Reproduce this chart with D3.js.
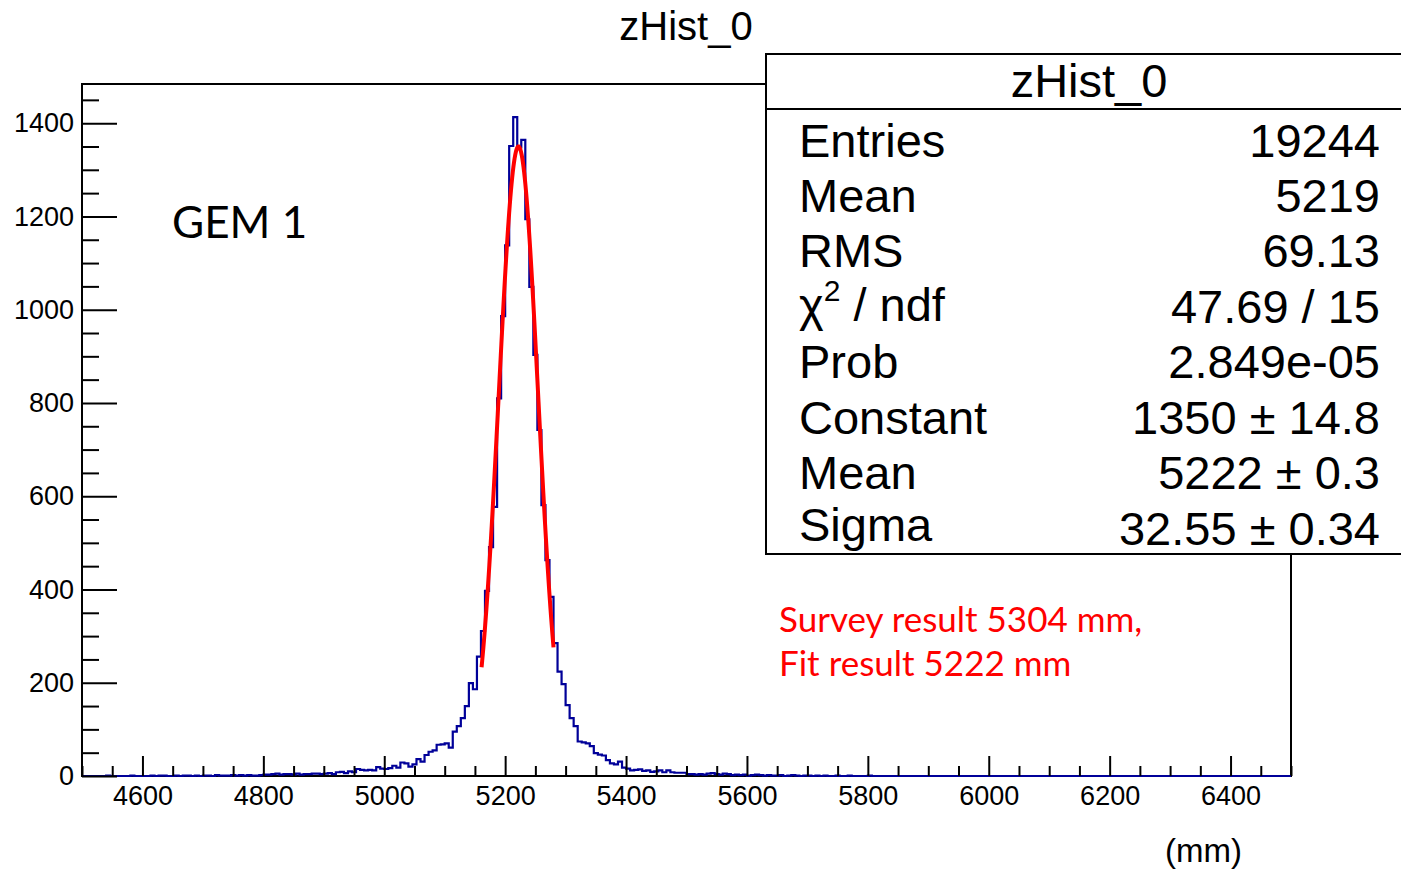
<!DOCTYPE html>
<html>
<head>
<meta charset="utf-8">
<script src="https://cdn.jsdelivr.net/npm/d3@7"></script>
<style>
body { margin: 0; background: #fff; }
</style>
</head>
<body>
<div id="chart"></div>
<script>
// histogram settings: 300 bins from 4500 to 6500 mm
var histMin = 4500, histMax = 6500, nBins = 300;

// bin contents (bins 0-99, 100-199, 200-299)
var countsLow = [
  0,0,0,0,0,0,1,0,0,0, 0,0,1,0,0,0,0,1,0,1,
  1,0,0,1,0,1,1,0,1,0, 1,1,0,2,1,1,1,2,1,2,
  1,2,1,1,2,3,3,4,5,3, 4,4,3,5,3,4,4,5,5,4,
  5,6,4,8,9,6,10,8,15,13, 12,13,12,19,16,15,17,22,18,29,
  27,20,25,36,31,45,52,55,67,68, 70,61,95,107,124,150,199,186,256,311
];
var countsMid = [
  397,491,577,810,986,1138,1351,1413,1348,1364, 1194,1049,903,742,581,463,384,285,224,197,
  152,124,107,74,72,70,64,49,46,44, 34,27,25,31,18,16,12,13,14,11,
  12,9,10,12,8,12,8,7,7,7, 4,4,3,4,3,5,6,4,3,5,
  4,2,3,2,3,1,2,3,2,1, 2,1,1,2,0,1,2,1,0,1,
  1,0,1,0,1,0,0,1,0,0, 1,0,0,0,0,1,0,0,0,0
];
var countsHigh = [
  0,0,0,0,0,0,0,0,0,0, 0,0,0,0,0,0,0,0,0,0,
  0,0,0,0,0,0,0,0,0,0, 0,0,0,0,0,0,0,0,0,0,
  0,0,0,0,0,0,0,0,0,0, 0,0,0,0,0,0,0,0,0,0,
  0,0,0,0,0,0,0,0,0,0, 0,0,0,0,0,0,0,0,0,0,
  0,0,0,0,0,0,0,0,0,0, 0,0,0,0,0,0,0,0,0,0
];

// gaussian fit: constant, mean, sigma and fit range
var fitParams = [1350, 5222, 32.55];
var fitRange = [5161, 5280];

// tick labels
var xMajor = [4600, 4800, 5000, 5200, 5400, 5600, 5800, 6000, 6200, 6400];
var yMajor = [0, 200, 400, 600, 800, 1000, 1200, 1400];

// stats box
var statLabels = ["Entries", "Mean", "RMS", "chi2", "Prob", "Constant", "Mean", "Sigma"];
var statValues = ["19244", "5219", "69.13", "47.69 / 15", "2.849e-05", "1350 \u00b1 14.8", "5222 \u00b1 0.3", "32.55 \u00b1 0.34"];

var w = 1401, h = 870;
var rootFont = "'Liberation Sans', Arial, Helvetica, sans-serif";
var noteFont = "Lato, 'Open Sans', sans-serif";

var counts = countsLow.concat(countsMid, countsHigh);
var binW = (histMax - histMin) / nBins;

var xScale = d3.scaleLinear().domain([histMin, histMax]).range([82, 1291]);
var yScale = d3.scaleLinear().domain([0, 1484]).range([776, 84]);

var svg = d3.select("#chart").append("svg")
  .attr("width", w)
  .attr("height", h);

// frame
svg.append("rect")
  .attr("x", xScale(histMin))
  .attr("y", yScale(1484))
  .attr("width", xScale(histMax) - xScale(histMin))
  .attr("height", yScale(0) - yScale(1484))
  .attr("fill", "none")
  .attr("stroke", "black")
  .attr("stroke-width", 2);

// histogram outline as steps
var steps = counts.map(function(c, i) { return [histMin + i * binW, c]; });
steps.push([histMax, counts[nBins - 1]]);

var histLine = d3.line()
  .x(function(d) { return xScale(d[0]); })
  .y(function(d) { return yScale(d[1]); })
  .curve(d3.curveStepAfter);

svg.append("path")
  .datum(steps)
  .attr("d", histLine)
  .attr("fill", "none")
  .attr("stroke", "#000099")
  .attr("stroke-width", 2.2);

// fit curve
var gaus = function(x) {
  var t = (x - fitParams[1]) / fitParams[2];
  return fitParams[0] * Math.exp(-0.5 * t * t);
};
var fitPts = d3.range(0, 121).map(function(i) {
  var x = fitRange[0] + (fitRange[1] - fitRange[0]) * i / 120;
  return [x, gaus(x)];
});
svg.append("path")
  .datum(fitPts)
  .attr("d", d3.line()
    .x(function(d) { return xScale(d[0]); })
    .y(function(d) { return yScale(d[1]); }))
  .attr("fill", "none")
  .attr("stroke", "#ff0000")
  .attr("stroke-width", 4);

// x axis
var xAxis = svg.append("g")
  .attr("transform", "translate(0," + yScale(0) + ")")
  .call(d3.axisBottom(xScale).tickValues(xMajor).tickSizeInner(-20).tickSizeOuter(0)
    .tickPadding(10).tickFormat(d3.format("d")));
xAxis.select(".domain").remove();
xAxis.selectAll("line").attr("stroke-width", 2);
xAxis.selectAll("text").attr("font-family", rootFont).attr("font-size", 27).attr("fill", "black");

var xMinor = d3.range(histMin, histMax + 1, 50).filter(function(v) { return v % 200 !== 0; });
var xAxisMinor = svg.append("g")
  .attr("transform", "translate(0," + yScale(0) + ")")
  .call(d3.axisBottom(xScale).tickValues(xMinor).tickSizeInner(-10).tickSizeOuter(0).tickFormat(""));
xAxisMinor.select(".domain").remove();
xAxisMinor.selectAll("line").attr("stroke-width", 2);

// y axis
var yAxis = svg.append("g")
  .attr("transform", "translate(" + xScale(histMin) + ",0)")
  .call(d3.axisLeft(yScale).tickValues(yMajor).tickSizeInner(-35).tickSizeOuter(0)
    .tickPadding(8).tickFormat(d3.format("d")));
yAxis.select(".domain").remove();
yAxis.selectAll("line").attr("stroke-width", 2);
yAxis.selectAll("text").attr("font-family", rootFont).attr("font-size", 27).attr("fill", "black");

var yMinor = d3.range(50, 1484, 50).filter(function(v) { return v % 200 !== 0; });
var yAxisMinor = svg.append("g")
  .attr("transform", "translate(" + xScale(histMin) + ",0)")
  .call(d3.axisLeft(yScale).tickValues(yMinor).tickSizeInner(-17).tickSizeOuter(0).tickFormat(""));
yAxisMinor.select(".domain").remove();
yAxisMinor.selectAll("line").attr("stroke-width", 2);

// title
svg.append("text")
  .attr("x", 686)
  .attr("y", 40)
  .attr("text-anchor", "middle")
  .attr("font-family", rootFont)
  .attr("font-size", 40)
  .text("zHist_0");

// x axis unit
svg.append("text")
  .attr("x", 1242)
  .attr("y", 862)
  .attr("text-anchor", "end")
  .attr("font-family", rootFont)
  .attr("font-size", 33)
  .text("(mm)");

// notes
svg.append("text")
  .attr("x", 172)
  .attr("y", 238)
  .attr("font-family", noteFont)
  .attr("font-size", 44)
  .text("GEM 1");

svg.append("text")
  .attr("x", 779)
  .attr("y", 632)
  .attr("font-family", noteFont)
  .attr("font-size", 35)
  .attr("fill", "#ff0000")
  .text("Survey result 5304 mm,");

svg.append("text")
  .attr("x", 779)
  .attr("y", 676)
  .attr("font-family", noteFont)
  .attr("font-size", 35)
  .attr("fill", "#ff0000")
  .text("Fit result 5222 mm");

// stats box
var box = svg.append("g");
box.append("rect")
  .attr("x", 766)
  .attr("y", 54)
  .attr("width", 660)
  .attr("height", 500)
  .attr("fill", "white")
  .attr("stroke", "black")
  .attr("stroke-width", 2);
box.append("line")
  .attr("x1", 766).attr("x2", 1401)
  .attr("y1", 109).attr("y2", 109)
  .attr("stroke", "black")
  .attr("stroke-width", 2);
box.append("text")
  .attr("x", 1089)
  .attr("y", 97)
  .attr("text-anchor", "middle")
  .attr("font-family", rootFont)
  .attr("font-size", 47)
  .text("zHist_0");

var labelY = [157, 212, 267, 321, 378, 434, 489, 541];
var valueY = [157, 212, 267, 323, 378, 434, 489, 545];

statLabels.forEach(function(lab, i) {
  var t = box.append("text")
    .attr("x", 799)
    .attr("y", labelY[i])
    .attr("font-family", rootFont)
    .attr("font-size", 47);
  if (lab === "chi2") {
    t.append("tspan").text("\u03c7");
    t.append("tspan").attr("font-size", 30).attr("dy", -20).text("2");
    t.append("tspan").attr("dy", 20).text(" / ndf");
  } else {
    t.text(lab);
  }
  box.append("text")
    .attr("x", 1380)
    .attr("y", valueY[i])
    .attr("text-anchor", "end")
    .attr("font-family", rootFont)
    .attr("font-size", 47)
    .text(statValues[i]);
});
</script>
</body>
</html>
